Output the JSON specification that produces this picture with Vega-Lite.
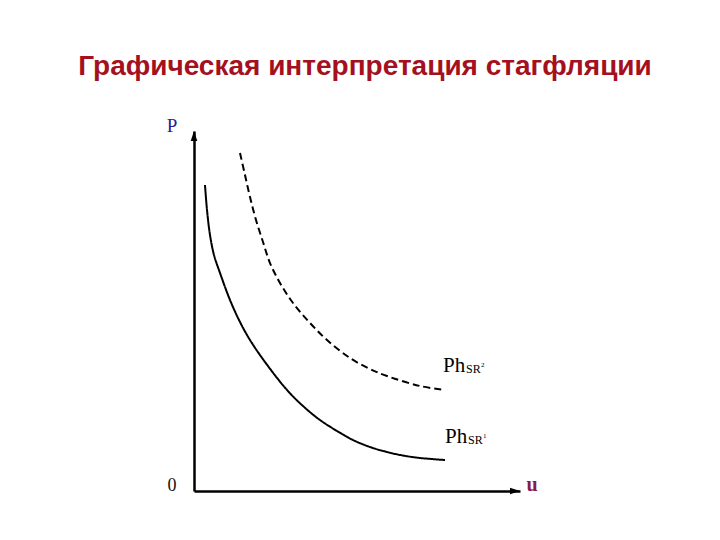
{
  "$schema": "https://vega.github.io/schema/vega-lite/v6.json",
  "width": 326,
  "height": 360,
  "autosize": {"type": "none"},
  "padding": {"left": 194, "top": 131, "right": 200, "bottom": 49},
  "background": "white",
  "config": {"view": {"stroke": null}},
  "title": {
    "text": "Графическая интерпретация стагфляции",
    "font": "Liberation Sans",
    "fontSize": 28,
    "fontWeight": "bold",
    "color": "#a5101e",
    "anchor": "middle",
    "frame": "group",
    "dx": 8,
    "offset": 36
  },
  "datasets": {
    "curves": [
      {"curve": "SR1", "u": 0.337, "P": 8.5},
      {"curve": "SR1", "u": 0.399, "P": 7.806},
      {"curve": "SR1", "u": 0.491, "P": 7.111},
      {"curve": "SR1", "u": 0.613, "P": 6.556},
      {"curve": "SR1", "u": 0.798, "P": 6.056},
      {"curve": "SR1", "u": 1.104, "P": 5.306},
      {"curve": "SR1", "u": 1.411, "P": 4.694},
      {"curve": "SR1", "u": 1.718, "P": 4.194},
      {"curve": "SR1", "u": 2.178, "P": 3.583},
      {"curve": "SR1", "u": 2.853, "P": 2.806},
      {"curve": "SR1", "u": 3.344, "P": 2.361},
      {"curve": "SR1", "u": 3.865, "P": 1.972},
      {"curve": "SR1", "u": 4.387, "P": 1.667},
      {"curve": "SR1", "u": 4.877, "P": 1.417},
      {"curve": "SR1", "u": 5.399, "P": 1.222},
      {"curve": "SR1", "u": 5.92, "P": 1.083},
      {"curve": "SR1", "u": 6.411, "P": 0.986},
      {"curve": "SR1", "u": 6.933, "P": 0.917},
      {"curve": "SR1", "u": 7.7, "P": 0.861},
      {"curve": "SR2", "u": 1.411, "P": 9.389},
      {"curve": "SR2", "u": 1.564, "P": 8.778},
      {"curve": "SR2", "u": 1.718, "P": 8.167},
      {"curve": "SR2", "u": 1.902, "P": 7.528},
      {"curve": "SR2", "u": 2.117, "P": 6.917},
      {"curve": "SR2", "u": 2.331, "P": 6.333},
      {"curve": "SR2", "u": 2.638, "P": 5.778},
      {"curve": "SR2", "u": 3.037, "P": 5.222},
      {"curve": "SR2", "u": 3.558, "P": 4.667},
      {"curve": "SR2", "u": 4.08, "P": 4.194},
      {"curve": "SR2", "u": 4.785, "P": 3.694},
      {"curve": "SR2", "u": 5.399, "P": 3.389},
      {"curve": "SR2", "u": 5.92, "P": 3.194},
      {"curve": "SR2", "u": 6.933, "P": 2.917},
      {"curve": "SR2", "u": 7.7, "P": 2.806}
    ],
    "arrows": [
      {"dir": "right", "u": 10, "P": 0},
      {"dir": "up", "u": 0, "P": 10}
    ],
    "main": [
      {"t": "Ph", "u": 7.638, "P": 3.306},
      {"t": "Ph", "u": 7.7, "P": 1.333}
    ],
    "subs": [
      {"t": "SR", "u": 8.343, "P": 3.28},
      {"t": "SR", "u": 8.405, "P": 1.306}
    ],
    "sups": [
      {"t": "2", "u": 8.804, "P": 3.44},
      {"t": "1", "u": 8.866, "P": 1.47}
    ]
  },
  "layer": [
    {
      "data": {"name": "curves"},
      "mark": {"type": "line", "interpolate": "catmull-rom", "color": "black", "strokeWidth": 2},
      "encoding": {
        "x": {"field": "u", "type": "quantitative",
              "scale": {"domain": [0, 10], "nice": false, "zero": false},
              "axis": {"domain": true, "domainColor": "black", "domainWidth": 2.5, "ticks": false, "labels": false, "grid": false, "title": null}},
        "y": {"field": "P", "type": "quantitative",
              "scale": {"domain": [0, 10], "nice": false, "zero": false},
              "axis": {"domain": true, "domainColor": "black", "domainWidth": 2.5, "ticks": false, "labels": false, "grid": false, "title": null}},
        "strokeDash": {"field": "curve", "type": "nominal",
                       "scale": {"domain": ["SR1", "SR2"], "range": [[1, 0], [7, 4]]},
                       "legend": null}
      }
    },
    {
      "data": {"name": "arrows"},
      "mark": {"type": "point", "filled": true, "color": "black", "opacity": 1, "size": 400, "strokeWidth": 0},
      "encoding": {
        "x": {"field": "u", "type": "quantitative"},
        "y": {"field": "P", "type": "quantitative"},
        "shape": {"field": "dir", "type": "nominal",
                  "scale": {"domain": ["right", "up"], "range": ["M0,0L-1,-0.33L-1,0.33Z", "M0,0L-0.33,1L0.33,1Z"]},
                  "legend": null}
      }
    },
    {
      "data": {"values": [{"t": "P", "u": -0.675, "P": 9.97}]},
      "mark": {"type": "text", "font": "Liberation Serif", "fontSize": 19, "color": "#1f1f99", "align": "center", "baseline": "alphabetic"},
      "encoding": {
        "x": {"field": "u", "type": "quantitative"},
        "y": {"field": "P", "type": "quantitative"},
        "text": {"field": "t"}
      }
    },
    {
      "data": {"values": [{"t": "0", "u": -0.675, "P": 0}]},
      "mark": {"type": "text", "font": "Liberation Serif", "fontSize": 18, "color": "#111111", "align": "center", "baseline": "alphabetic"},
      "encoding": {
        "x": {"field": "u", "type": "quantitative"},
        "y": {"field": "P", "type": "quantitative"},
        "text": {"field": "t"}
      }
    },
    {
      "data": {"values": [{"t": "u", "u": 10.368, "P": 0}]},
      "mark": {"type": "text", "font": "Liberation Serif", "fontSize": 20, "fontWeight": "bold", "color": "#8b1a4a", "align": "center", "baseline": "alphabetic"},
      "encoding": {
        "x": {"field": "u", "type": "quantitative"},
        "y": {"field": "P", "type": "quantitative"},
        "text": {"field": "t"}
      }
    },
    {
      "data": {"name": "main"},
      "mark": {"type": "text", "font": "Liberation Serif", "fontSize": 21, "color": "black", "align": "left", "baseline": "alphabetic"},
      "encoding": {
        "x": {"field": "u", "type": "quantitative"},
        "y": {"field": "P", "type": "quantitative"},
        "text": {"field": "t"}
      }
    },
    {
      "data": {"name": "subs"},
      "mark": {"type": "text", "font": "Liberation Serif", "fontSize": 12, "color": "black", "align": "left", "baseline": "alphabetic"},
      "encoding": {
        "x": {"field": "u", "type": "quantitative"},
        "y": {"field": "P", "type": "quantitative"},
        "text": {"field": "t"}
      }
    },
    {
      "data": {"name": "sups"},
      "mark": {"type": "text", "font": "Liberation Serif", "fontSize": 7, "color": "black", "align": "left", "baseline": "alphabetic"},
      "encoding": {
        "x": {"field": "u", "type": "quantitative"},
        "y": {"field": "P", "type": "quantitative"},
        "text": {"field": "t"}
      }
    }
  ]
}
